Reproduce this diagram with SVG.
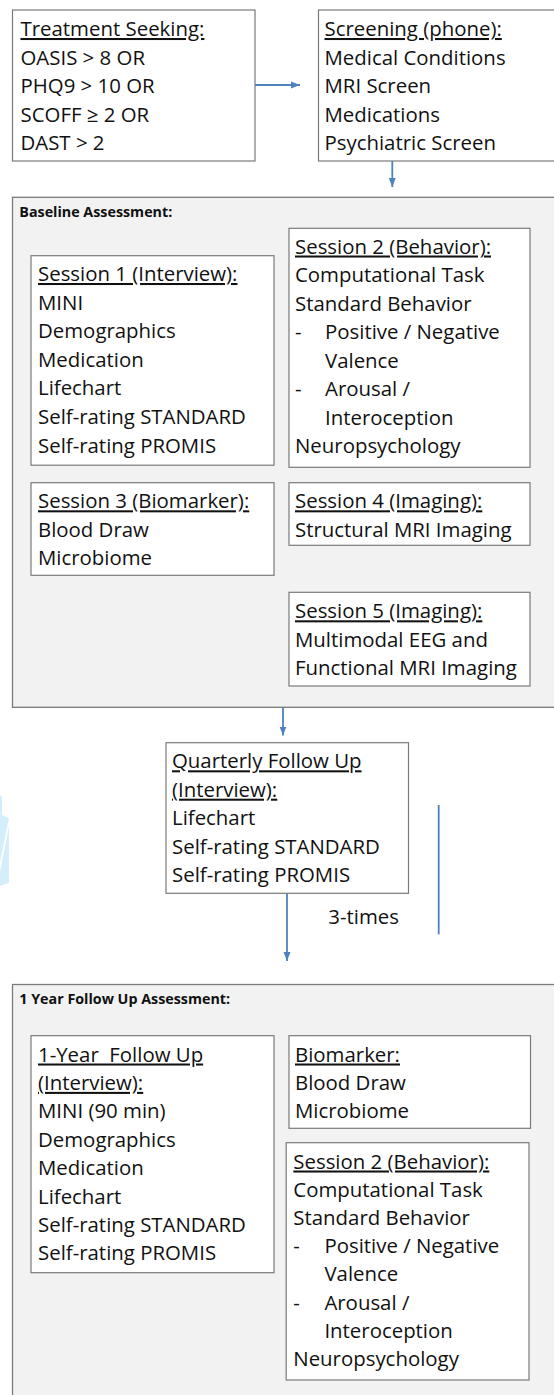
<svg xmlns="http://www.w3.org/2000/svg" width="554" height="1395" viewBox="0 0 554 1395">
<defs>
<style>
.box{fill:#ffffff;stroke:#7a7a7a;stroke-width:1.2}
.cont{fill:#f2f2f2;stroke:#7a7a7a;stroke-width:1.3}
.t{font-family:"Open Sans","Liberation Sans",sans-serif;font-size:20.4px;fill:#111}
.h{font-family:"Open Sans","Liberation Sans",sans-serif;font-size:14.3px;font-weight:bold;fill:#111}
.u{text-decoration:underline}
.c{stroke:#4f81bd;stroke-width:1.8;fill:none}
.wm{fill:#d5eefb}
</style>
<marker id="ah" markerUnits="userSpaceOnUse" markerWidth="10" markerHeight="10" viewBox="0 0 10 10" refX="9" refY="5" orient="auto">
<path d="M0,1.5 L9,5 L0,8.5 Z" fill="#4f81bd"/>
</marker>
</defs>
<rect width="554" height="1395" fill="#ffffff"/>
<g id="watermark">
<polygon class="wm" points="0,795 2,797 2,815 9,818 0,862"/>
<polygon class="wm" points="0,872 9,826 9,883 0,886"/>
</g>
<g id="treatment">
<rect class="box" x="12.5" y="10" width="242.5" height="151"/>
<text class="t" x="20.5" y="36"><tspan class="u">Treatment Seeking:</tspan></text>
<text class="t" x="20.5" y="64.5">OASIS &gt; 8 OR</text>
<text class="t" x="20.5" y="93">PHQ9 &gt; 10 OR</text>
<text class="t" x="20.5" y="121.5">SCOFF ≥ 2 OR</text>
<text class="t" x="20.5" y="150">DAST &gt; 2</text>
</g>
<g id="screening">
<rect class="box" x="318.5" y="10" width="245" height="151"/>
<text class="t" x="324.5" y="36"><tspan class="u">Screening (phone):</tspan></text>
<text class="t" x="324.5" y="64.5">Medical Conditions</text>
<text class="t" x="324.5" y="93">MRI Screen</text>
<text class="t" x="324.5" y="121.5">Medications</text>
<text class="t" x="324.5" y="150">Psychiatric Screen</text>
</g>
<g id="baseline">
<rect class="cont" x="12.5" y="197.3" width="552" height="510"/>
<text class="h" x="19.3" y="216.7">Baseline Assessment:</text>
</g>
<g id="session1">
<rect class="box" x="31" y="255.7" width="243" height="209.5"/>
<text class="t" x="38" y="281"><tspan class="u">Session 1 (Interview):</tspan></text>
<text class="t" x="38" y="309.6">MINI</text>
<text class="t" x="38" y="338.2">Demographics</text>
<text class="t" x="38" y="366.8">Medication</text>
<text class="t" x="38" y="395.4">Lifechart</text>
<text class="t" x="38" y="424">Self-rating STANDARD</text>
<text class="t" x="38" y="452.6">Self-rating PROMIS</text>
</g>
<g id="session2">
<rect class="box" x="289" y="228.3" width="241" height="239"/>
<text class="t" x="295" y="253.5"><tspan class="u">Session 2 (Behavior):</tspan></text>
<text class="t" x="295" y="282">Computational Task</text>
<text class="t" x="295" y="310.5">Standard Behavior</text>
<text class="t" x="295" y="339">-</text>
<text class="t" x="325" y="339">Positive / Negative</text>
<text class="t" x="325" y="367.5">Valence</text>
<text class="t" x="295" y="396">-</text>
<text class="t" x="325" y="396">Arousal /</text>
<text class="t" x="325" y="424.5">Interoception</text>
<text class="t" x="295" y="453">Neuropsychology</text>
</g>
<g id="session3">
<rect class="box" x="31" y="482.7" width="243" height="92.6"/>
<text class="t" x="38" y="508.3"><tspan class="u">Session 3 (Biomarker):</tspan></text>
<text class="t" x="38" y="536.7">Blood Draw</text>
<text class="t" x="38" y="565">Microbiome</text>
</g>
<g id="session4">
<rect class="box" x="289" y="482.7" width="241" height="62.6"/>
<text class="t" x="295" y="508.3"><tspan class="u">Session 4 (Imaging):</tspan></text>
<text class="t" x="295" y="536.7">Structural MRI Imaging</text>
</g>
<g id="session5">
<rect class="box" x="289" y="592.3" width="241" height="93.7"/>
<text class="t" x="295" y="618.3"><tspan class="u">Session 5 (Imaging):</tspan></text>
<text class="t" x="295" y="646.7">Multimodal EEG and</text>
<text class="t" x="295" y="675">Functional MRI Imaging</text>
</g>
<g id="quarterly">
<rect class="box" x="166" y="742.7" width="242.5" height="150.6"/>
<text class="t" x="172" y="768.3"><tspan class="u">Quarterly Follow Up</tspan></text>
<text class="t" x="172" y="796.7"><tspan class="u">(Interview):</tspan></text>
<text class="t" x="172" y="825.2">Lifechart</text>
<text class="t" x="172" y="853.5">Self-rating STANDARD</text>
<text class="t" x="172" y="881.8">Self-rating PROMIS</text>
</g>
<g id="times-label">
<text class="t" x="328.3" y="924">3-times</text>
</g>
<g id="followup">
<rect class="cont" x="12.5" y="984.5" width="552" height="420"/>
<text class="h" x="19.3" y="1003.9">1 Year Follow Up Assessment:</text>
</g>
<g id="year-interview">
<rect class="box" x="31" y="1035.7" width="243" height="237"/>
<text class="t" x="38" y="1061.5" style="white-space:pre"><tspan class="u">1-Year  Follow Up</tspan></text>
<text class="t" x="38" y="1089.9"><tspan class="u">(Interview):</tspan></text>
<text class="t" x="38" y="1118.3">MINI (90 min)</text>
<text class="t" x="38" y="1146.7">Demographics</text>
<text class="t" x="38" y="1175.1">Medication</text>
<text class="t" x="38" y="1203.5">Lifechart</text>
<text class="t" x="38" y="1231.9">Self-rating STANDARD</text>
<text class="t" x="38" y="1260.3">Self-rating PROMIS</text>
</g>
<g id="biomarker">
<rect class="box" x="289" y="1035.7" width="241.5" height="92.6"/>
<text class="t" x="295" y="1061.5"><tspan class="u">Biomarker:</tspan></text>
<text class="t" x="295" y="1089.9">Blood Draw</text>
<text class="t" x="295" y="1118.3">Microbiome</text>
</g>
<g id="year-session2">
<rect class="box" x="286.2" y="1142.7" width="242.8" height="237.3"/>
<text class="t" x="293.3" y="1168.5"><tspan class="u">Session 2 (Behavior):</tspan></text>
<text class="t" x="293.3" y="1196.5">Computational Task</text>
<text class="t" x="293.3" y="1224.8">Standard Behavior</text>
<text class="t" x="293.3" y="1253.1">-</text>
<text class="t" x="324.4" y="1253.1">Positive / Negative</text>
<text class="t" x="324.4" y="1281.4">Valence</text>
<text class="t" x="293.3" y="1309.7">-</text>
<text class="t" x="324.4" y="1309.7">Arousal /</text>
<text class="t" x="324.4" y="1338">Interoception</text>
<text class="t" x="293.3" y="1366.3">Neuropsychology</text>
</g>
<g id="connectors">
<line class="c" x1="255" y1="85" x2="300" y2="85" marker-end="url(#ah)"/>
<line class="c" x1="392.3" y1="161" x2="392.3" y2="187" marker-end="url(#ah)"/>
<line class="c" x1="283" y1="707.3" x2="283" y2="735.5" marker-end="url(#ah)"/>
<line class="c" x1="287" y1="893.3" x2="287" y2="961" marker-end="url(#ah)"/>
<line class="c" x1="438.7" y1="805" x2="438.7" y2="934.3"/>
</g>
</svg>
